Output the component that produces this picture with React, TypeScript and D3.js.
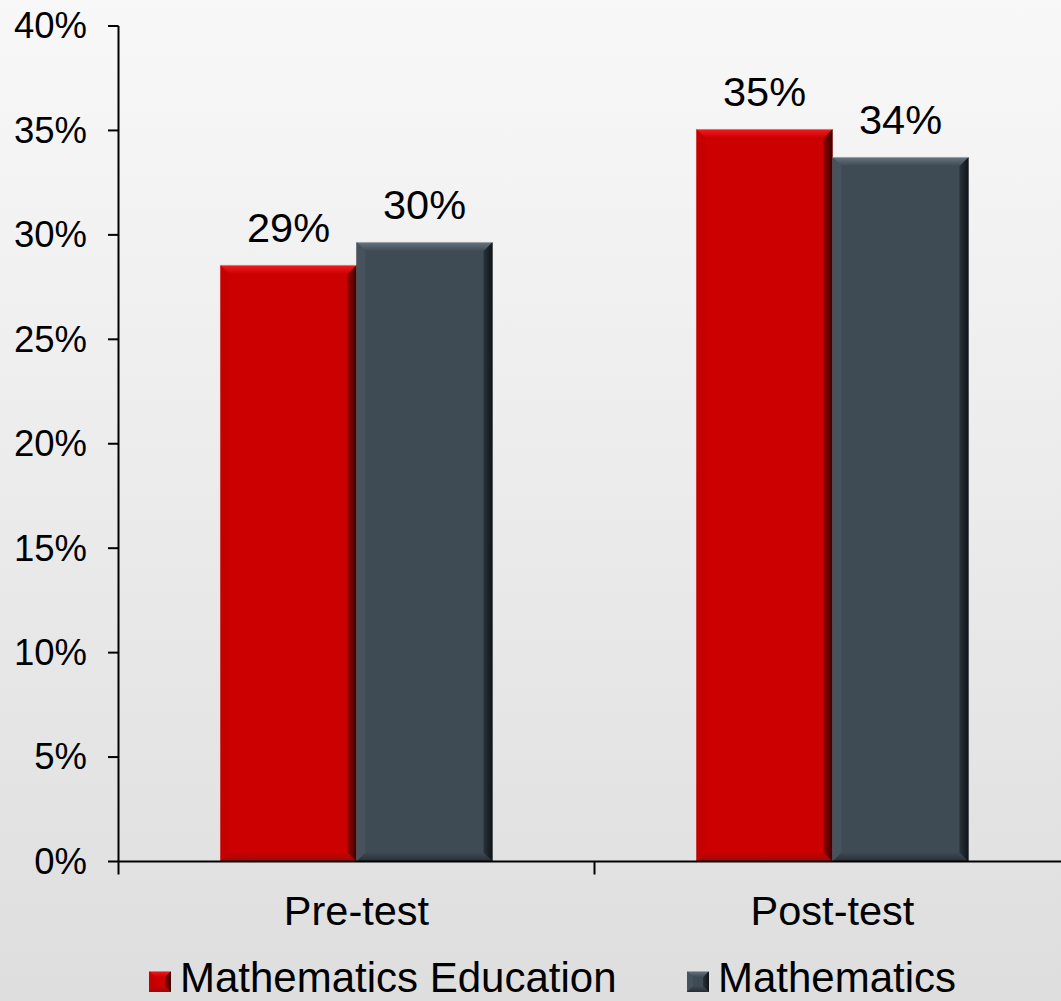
import React from 'react';
import * as d3 from 'd3';

const categories = ['Pre-test', 'Post-test'];
const seriesNames = ['Mathematics Education', 'Mathematics'];
const mathEducation = [28.56, 35.07];
const mathematics = [29.66, 33.73];
const yTickValues = [0, 5, 10, 15, 20, 25, 30, 35, 40];

const W = 1061;
const H = 1001;
const FONT = '"Liberation Sans", Arial, sans-serif';

type Palette = { base: string; top: string; left: string; rightA: string; rightB: string; bottom: string };
const palettes: Palette[] = [
  { base: '#cc0000', top: '#ee1e22', left: '#c40000', rightA: '#980000', rightB: '#3a0000', bottom: '#980a0a' },
  { base: '#3e4a54', top: '#6a767f', left: '#46525c', rightA: '#29323a', rightB: '#0f1419', bottom: '#262e35' },
];

function BevelBar({ x0, x1, y0, y1, p, id, bevel = 8 }: { x0: number; x1: number; y0: number; y1: number; p: Palette; id: string; bevel?: number }) {
  const b = Math.min(bevel, (y1 - y0) / 2, (x1 - x0) / 2);
  const pts = (a: number[][]) => a.map((q) => q.join(',')).join(' ');
  return (
    <g>
      <defs>
        <linearGradient id={`${id}-r`} x1="0" y1="0" x2="1" y2="0">
          <stop offset="0" stopColor={p.rightA} />
          <stop offset="1" stopColor={p.rightB} />
        </linearGradient>
        <linearGradient id={`${id}-t`} x1="0" y1="0" x2="0" y2="1">
          <stop offset="0" stopColor={p.top} />
          <stop offset="1" stopColor={p.base} />
        </linearGradient>
        <linearGradient id={`${id}-b`} x1="0" y1="0" x2="0" y2="1">
          <stop offset="0" stopColor={p.base} />
          <stop offset="1" stopColor={p.bottom} />
        </linearGradient>
      </defs>
      <rect x={x0} y={y0} width={x1 - x0} height={y1 - y0} fill={p.base} />
      <polygon points={pts([[x0, y0], [x0 + b, y0 + b], [x0 + b, y1 - b], [x0, y1]])} fill={p.left} />
      <polygon points={pts([[x0, y1], [x1, y1], [x1 - b, y1 - b], [x0 + b, y1 - b]])} fill={`url(#${id}-b)`} />
      <polygon points={pts([[x1, y0], [x1, y1], [x1 - b, y1 - b], [x1 - b, y0 + b]])} fill={`url(#${id}-r)`} />
      <polygon points={pts([[x0, y0], [x1, y0], [x1 - b, y0 + b], [x0 + b, y0 + b]])} fill={`url(#${id}-t)`} />
      <line x1={x0} x2={x1} y1={y0 + 0.5} y2={y0 + 0.5} stroke="#ffffff" strokeOpacity={0.35} />
    </g>
  );
}

export default function App() {
  const x = d3.scaleBand<string>().domain(categories).range([118.5, 1070.5]).paddingInner(0).paddingOuter(0);
  const y = d3.scaleLinear().domain([0, 40]).range([861.5, 26]);
  const band = x.bandwidth();
  const barW = band / 3.5; // gap width 150%
  const inner = d3.scaleBand<string>().domain(seriesNames).range([0.75 * barW, 0.75 * barW + 2 * barW]);
  const seriesValues = [mathEducation, mathematics];
  const fmt = (v: number) => `${Math.round(v)}%`;
  const boundaries = [...categories.map((c) => x(c) as number), (x(categories[categories.length - 1]) as number) + band];

  const legendY = 992;
  const legendItems = [
    { name: seriesNames[0], x: 149, p: palettes[0] },
    { name: seriesNames[1], x: 687, p: palettes[1] },
  ];

  return (
    <svg width={W} height={H} style={{ position: 'absolute', left: 0, top: 0 }} fontFamily={FONT}>
      <defs>
        <linearGradient id="bg" x1="0" y1="0" x2="0" y2="1">
          <stop offset="0" stopColor="#f8f8f8" />
          <stop offset="1" stopColor="#dedede" />
        </linearGradient>
      </defs>
      <rect x={0} y={0} width={W} height={H} fill="url(#bg)" />

      {/* bars */}
      {categories.map((c, ci) =>
        seriesNames.map((s, si) => {
          const x0 = (x(c) as number) + (inner(s) as number);
          const v = seriesValues[si][ci];
          return (
            <BevelBar key={`${c}-${s}`} id={`bar-${ci}-${si}`} x0={x0} x1={x0 + barW} y0={y(v)} y1={y(0)} p={palettes[si]} bevel={9} />
          );
        })
      )}

      {/* value labels */}
      {categories.map((c, ci) =>
        seriesNames.map((s, si) => {
          const v = seriesValues[si][ci];
          const cx = (x(c) as number) + (inner(s) as number) + barW / 2;
          return (
            <text key={`lbl-${c}-${s}`} x={cx} y={y(v) - 23} textAnchor="middle" fontSize={41.5} fill="#000">
              {fmt(v)}
            </text>
          );
        })
      )}

      {/* y axis */}
      <line x1={118.5} x2={118.5} y1={y(40)} y2={y(0)} stroke="#000" strokeWidth={2} />
      {yTickValues.map((t) => (
        <g key={`yt-${t}`}>
          <line x1={108} x2={118.5} y1={y(t)} y2={y(t)} stroke="#000" strokeWidth={2} />
          <text x={87} y={y(t)} dy="0.34em" textAnchor="end" fontSize={36.5} fill="#000">
            {`${t}%`}
          </text>
        </g>
      ))}

      {/* x axis */}
      <line x1={118.5} x2={1070.5} y1={y(0)} y2={y(0)} stroke="#000" strokeWidth={2} />
      {boundaries.map((bx, i) => (
        <line key={`xt-${i}`} x1={bx} x2={bx} y1={y(0)} y2={y(0) + 13} stroke="#000" strokeWidth={2} />
      ))}
      {categories.map((c) => (
        <text key={`cat-${c}`} x={(x(c) as number) + band / 2} y={925} textAnchor="middle" fontSize={41.5} fill="#000">
          {c}
        </text>
      ))}

      {/* legend */}
      {legendItems.map((it, i) => (
        <g key={`lg-${i}`}>
          <BevelBar id={`lg-${i}`} x0={it.x} x1={it.x + 22} y0={legendY - 21} y1={legendY} p={it.p} bevel={6} />
          <text x={it.x + 31} y={legendY} fontSize={42} fill="#000">
            {it.name}
          </text>
        </g>
      ))}
    </svg>
  );
}
